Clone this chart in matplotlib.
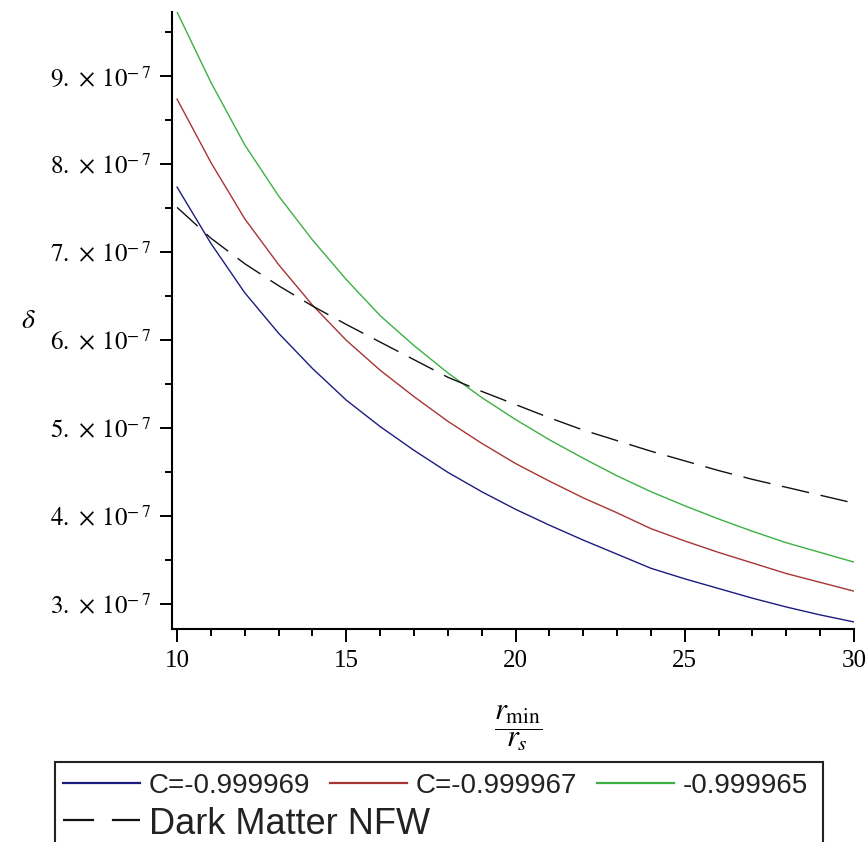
"""Maple-style plot of delta against r_min / r_s for three C values and the NFW halo."""

import matplotlib
matplotlib.use("Agg")
import matplotlib.pyplot as plt
from matplotlib.lines import Line2D
from matplotlib.patches import Rectangle
from matplotlib.ticker import FuncFormatter, MultipleLocator


# r_min / r_s
R_RATIO = [10, 11, 12, 13, 14, 15, 16, 17, 18, 19, 20,
           21, 22, 23, 24, 25, 26, 27, 28, 29, 30]
# delta in units of 1e-7
DELTA_C969 = [7.74, 7.10, 6.54, 6.08, 5.68, 5.32, 5.02, 4.75, 4.50, 4.28, 4.08,
              3.90, 3.73, 3.57, 3.41, 3.29, 3.18, 3.07, 2.97, 2.88, 2.80]
DELTA_C967 = [8.74, 8.02, 7.38, 6.86, 6.40, 6.00, 5.66, 5.36, 5.08, 4.83, 4.60,
              4.40, 4.21, 4.04, 3.86, 3.72, 3.59, 3.47, 3.35, 3.25, 3.15]
DELTA_C965 = [9.73, 8.93, 8.22, 7.64, 7.14, 6.69, 6.28, 5.94, 5.63, 5.35, 5.10,
              4.87, 4.66, 4.46, 4.28, 4.12, 3.97, 3.83, 3.70, 3.59, 3.48]
DELTA_NFW = [7.51, 7.16, 6.87, 6.62, 6.39, 6.18, 5.98, 5.78, 5.58, 5.42, 5.27,
             5.12, 4.98, 4.86, 4.74, 4.63, 4.52, 4.42, 4.33, 4.24, 4.15]

LABELS = ["C=-0.999969", "C=-0.999967", "-0.999965", "Dark Matter NFW"]
COLORS = ["#1c1c80", "#a83434", "#3cb043", "#111111"]
SCALE = 1e-7

plt.rcParams.update(
    {
        "font.family": "serif",
        "font.serif": ["Liberation Serif", "DejaVu Serif"],
        "mathtext.fontset": "stix",
    }
)

W, H = 866, 842
fig = plt.figure(figsize=(W / 100, H / 100), dpi=100)
ax = fig.add_axes([172 / W, 1 - 629 / H, (854 - 172) / W, (629 - 12) / H])

dash = (0, (20, 8.5))
series = [DELTA_C969, DELTA_C967, DELTA_C965, DELTA_NFW]
for values, color, label in zip(series, COLORS, LABELS):
    ax.plot(
        R_RATIO,
        [v * SCALE for v in values],
        color=color,
        linewidth=1.0,
        linestyle=dash if label.startswith("Dark") else "-",
        label=label,
    )

ax.set_xlim(9.85, 30)
ax.set_ylim(2.72e-7, 9.73e-7)
for side in ("top", "right"):
    ax.spines[side].set_visible(False)
for side in ("left", "bottom"):
    ax.spines[side].set_linewidth(1.5)

ax.xaxis.set_major_locator(MultipleLocator(5))
ax.xaxis.set_minor_locator(MultipleLocator(1))
ax.yaxis.set_major_locator(MultipleLocator(1e-7))
ax.yaxis.set_minor_locator(MultipleLocator(0.5e-7))
ax.yaxis.set_major_formatter(
    FuncFormatter(lambda v, pos: rf"${v / SCALE:.0f}.\,\times\,10^{{-\,7}}$")
)
ax.tick_params(which="major", direction="out", length=9, width=1.4,
               labelsize=18, pad=6)
ax.tick_params(which="minor", direction="out", length=5, width=1.4)

fig.text(28 / W, 1 - 321 / H, r"$\delta$", fontsize=20, ha="center", va="center")
fig.text(518 / W, 1 - 728 / H, r"$\dfrac{r_{\mathrm{min}}}{r_s}$", fontsize=22,
         ha="center", va="center")

# legend box, Maple style, cut by the bottom edge
fig.add_artist(
    Rectangle((55 / W, -0.02), (823 - 55) / W, 0.02 + 1 - 762 / H,
              transform=fig.transFigure, facecolor="none",
              edgecolor="#222222", linewidth=1.5)
)
rows = [(63, 783, 0), (330, 783, 1), (597, 783, 2), (63, 820, 3)]
for x0, y0, i in rows:
    fig.add_artist(
        Line2D([x0 / W, (x0 + 77) / W], [1 - y0 / H, 1 - y0 / H],
               transform=fig.transFigure, color=COLORS[i], linewidth=1.6,
               linestyle=(0, (14, 8)) if i == 3 else "-")
    )
    fig.text((x0 + 86) / W, 1 - y0 / H, LABELS[i],
             fontsize=26 if i == 3 else 20, family="Liberation Sans",
             color="#222222", ha="left", va="center_baseline")

fig.savefig("out.png", dpi=100)
